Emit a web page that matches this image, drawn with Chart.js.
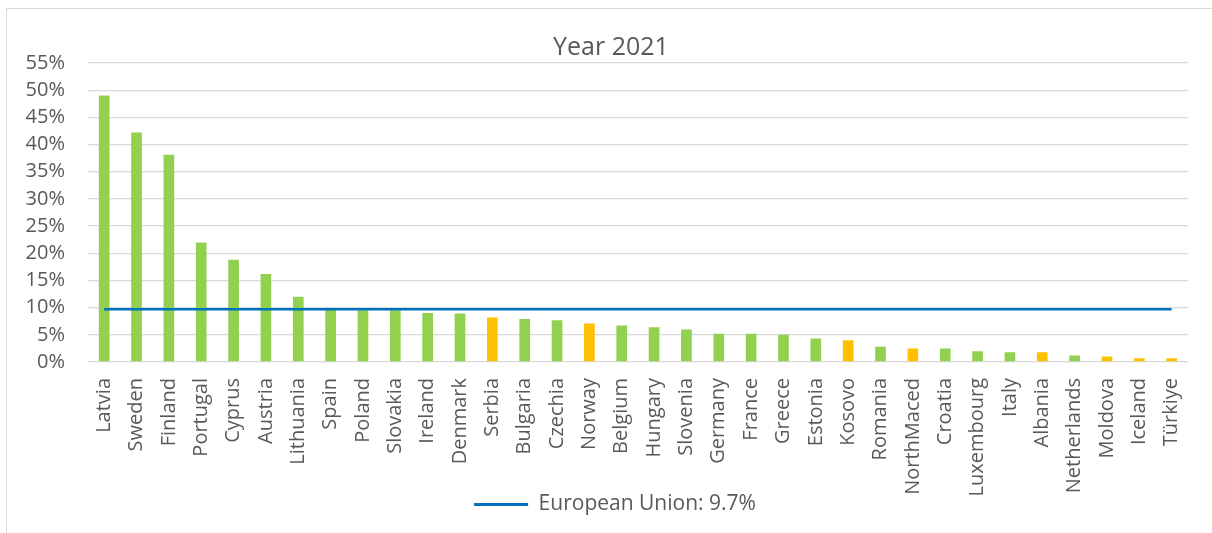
<!DOCTYPE html>
<html>
<head>
<meta charset="utf-8">
<script src="https://cdn.jsdelivr.net/npm/chart.js@4/dist/chart.umd.min.js"></script>
<style>
  html, body { margin: 0; padding: 0; background: #fff; }
  #wrap { position: relative; width: 1212px; height: 533px; overflow: hidden; }
  #frame { position: absolute; left: 6px; top: 8px; width: 1220px; height: 540px;
           border-top: 1px solid #d9d9d9; border-left: 1px solid #d9d9d9; pointer-events: none; }
  canvas { position: absolute; left: 0; top: 0; }
</style>
</head>
<body>
<div id="wrap">
  <canvas id="chart" width="1212" height="533"></canvas>
  <div id="frame"></div>
</div>
<script>
// Countries, sorted by share
const countries = ['Latvia', 'Sweden', 'Finland', 'Portugal', 'Cyprus', 'Austria', 'Lithuania', 'Spain',
  'Poland', 'Slovakia', 'Ireland', 'Denmark', 'Serbia', 'Bulgaria', 'Czechia', 'Norway', 'Belgium',
  'Hungary', 'Slovenia', 'Germany', 'France', 'Greece', 'Estonia', 'Kosovo', 'Romania', 'NorthMaced',
  'Croatia', 'Luxembourg', 'Italy', 'Albania', 'Netherlands', 'Moldova', 'Iceland', 'Türkiye'];

// Share per country (%)
const shares = [49.0, 42.2, 38.1, 22.0, 18.8, 16.2, 12.0, 9.6,
  9.5, 9.5, 9.0, 8.9, 8.2, 7.9, 7.7, 7.1, 6.7,
  6.4, 6.0, 5.2, 5.2, 5.0, 4.3, 4.0, 2.8, 2.5,
  2.5, 2.0, 1.8, 1.8, 1.2, 1.0, 0.7, 0.7];

// EU member (true) or not (false)
const euMember = [true, true, true, true, true, true, true, true,
  true, true, true, true, false, true, true, false, true,
  true, true, true, true, true, true, false, true, false,
  true, true, true, false, true, false, false, false];

// EU average (%)
const euAverage = 9.7;
const euLabel = 'European Union: 9.7%';
const chartTitle = 'Year 2021';

// Y axis range and step (%)
const yMin = 0;
const yMax = 55;
const yStep = 5;

const GREEN = '#92D050';
const ORANGE = '#FFC000';
const BLUE = '#0070C0';
const TEXT = '#595959';
const GRID = '#d9d9d9';
const FONT = "'Open Sans', sans-serif";

const barColors = euMember.map(m => m ? GREEN : ORANGE);
const euLine = countries.map(() => euAverage);

// Let the long rotated country names and the y tick labels run past
// their scale boxes instead of being clipped; nudge the legend a little right
const adjustBoxes = {
  id: 'adjustBoxes',
  afterLayout(chart) {
    chart.scales.x.bottom = chart.height;
    chart.scales.y.left = 0;
    chart.legend.left += 4;
    chart.legend.right += 4;
  }
};

new Chart(document.getElementById('chart'), {
  data: {
    labels: countries,
    datasets: [
      {
        type: 'line',
        label: euLabel,
        data: euLine,
        borderColor: BLUE,
        backgroundColor: BLUE,
        borderWidth: 2.5,
        pointRadius: 0,
        pointHoverRadius: 0,
        order: 0
      },
      {
        type: 'bar',
        label: 'Share',
        data: shares,
        backgroundColor: barColors,
        borderWidth: 0,
        barPercentage: 0.33,
        categoryPercentage: 1.0,
        order: 1
      }
    ]
  },
  plugins: [adjustBoxes],
  options: {
    responsive: false,
    animation: false,
    layout: { padding: { left: 34, right: 24, top: 0, bottom: 8 } },
    plugins: {
      title: {
        display: true,
        text: chartTitle,
        color: TEXT,
        font: { family: FONT, size: 25, weight: 'normal' },
        padding: { top: 33, bottom: 0 }
      },
      legend: {
        display: true,
        position: 'bottom',
        labels: {
          color: TEXT,
          font: { family: FONT, size: 21 },
          boxWidth: 54,
          boxHeight: 3,
          padding: 10,
          generateLabels: () => [{
            text: euLabel,
            fillStyle: BLUE,
            strokeStyle: BLUE,
            lineWidth: 0,
            fontColor: TEXT,
            datasetIndex: 0
          }]
        }
      },
      tooltip: { enabled: false }
    },
    scales: {
      x: {
        grid: { display: false, drawTicks: false },
        border: { display: false },
        ticks: {
          color: TEXT,
          font: { family: FONT, size: 20 },
          minRotation: 90,
          maxRotation: 90,
          autoSkip: false,
          padding: 16
        },
        afterFit: scale => { scale.height = 122; }
      },
      y: {
        min: yMin,
        max: yMax,
        grid: { color: GRID, lineWidth: 1.3, drawTicks: false },
        border: { display: false },
        ticks: {
          stepSize: yStep,
          color: TEXT,
          font: { family: FONT, size: 20 },
          padding: 23,
          callback: v => v + '%'
        },
        afterFit: scale => { scale.width = 54; }
      }
    }
  }
});
</script>
</body>
</html>
